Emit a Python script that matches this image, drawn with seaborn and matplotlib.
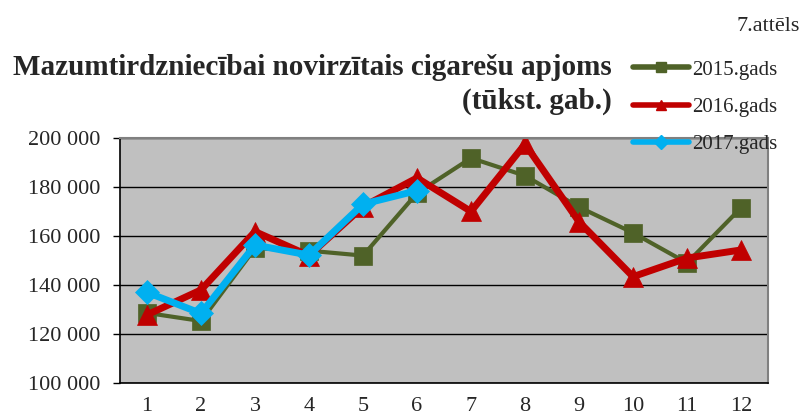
import pandas as pd
import seaborn as sns
import matplotlib.pyplot as plt
from matplotlib.lines import Line2D
from matplotlib.ticker import FixedLocator, FuncFormatter

sns.set_style('white')
plt.rcParams['font.family'] = ['Liberation Serif', 'DejaVu Serif']

# data (tūkst. gab.)
months = list(range(1, 13))
y2015 = [128600, 125300, 155000, 154000, 152000, 177500, 191800, 184600, 171800, 161300, 149000, 171500]
y2016 = [127800, 138000, 161800, 152000, 172000, 183700, 170000, 197500, 165800, 143400, 151000, 154300]
y2017 = [137000, 128400, 156300, 152200, 173000, 178500]

series = [
    ('2015.gads', y2015, '#4F6228', 's', 3.0, 13),
    ('2016.gads', y2016, '#C00000', '^', 5.0, 15),
    ('2017.gads', y2017, '#00B0F0', 'D', 5.0, 12),
]

fig = plt.figure(figsize=(8.07, 4.15), dpi=100)
ax = fig.add_axes([0.1487, 0.0771, 0.8030, 0.5904])
ax.set_facecolor('#C0C0C0')

for name, vals, col, mk, lw, ms in series:
    df = pd.DataFrame({'Month': months[:len(vals)], 'Value': vals})
    sns.lineplot(data=df, x='Month', y='Value', ax=ax, color=col, linewidth=lw,
                 marker=mk, markersize=ms, markeredgecolor=col, markeredgewidth=0.5,
                 legend=False)

ax.set_xlim(0.5, 12.5)
ax.set_ylim(100000, 200000)
ax.set_yticks(range(100000, 200001, 20000))
ax.yaxis.set_major_formatter(FuncFormatter(lambda v, p: f'{int(v):,}'.replace(',', ' ')))
ax.set_xticks(months)
ax.xaxis.set_minor_locator(FixedLocator([m + 0.5 for m in range(0, 13)]))
ax.tick_params(axis='x', which='major', length=0, pad=10, labelsize=16)
ax.tick_params(axis='x', which='minor', length=4, color='black', width=1)
ax.tick_params(axis='y', which='major', length=5, color='black', width=1, labelsize=16, pad=9, left=True)
ax.grid(axis='y', color='black', linewidth=1)
ax.grid(axis='x', visible=False)
ax.set_axisbelow(True)
ax.set_xlabel('')
ax.set_ylabel('')
for s in ['left', 'bottom']:
    ax.spines[s].set_color('black')
    ax.spines[s].set_linewidth(1.2)
for s in ['top', 'right']:
    ax.spines[s].set_color('#808080')
    ax.spines[s].set_linewidth(1.5)

fig.text(0.9913, 0.935, '7.attēls', ha='right', va='center', fontsize=16)
fig.text(0.758, 0.797, 'Mazumtirdzniecībai novirzītais cigarešu apjoms\n(tūkst. gab.)',
         ha='right', va='center', fontsize=21, fontweight='bold',
         multialignment='right', linespacing=1.3)

handles = [Line2D([0], [0], color=col, linewidth=4, marker=mk, markersize=7,
                  markeredgecolor=col) for name, vals, col, mk, lw, ms in series]
fig.legend(handles, [s[0] for s in series], loc='upper left', bbox_to_anchor=(0.785, 0.855),
           frameon=False, fontsize=15, handlelength=2.65, handletextpad=0.15,
           labelspacing=0.85, borderaxespad=0, borderpad=0)

fig.savefig('out.png', dpi=100)
